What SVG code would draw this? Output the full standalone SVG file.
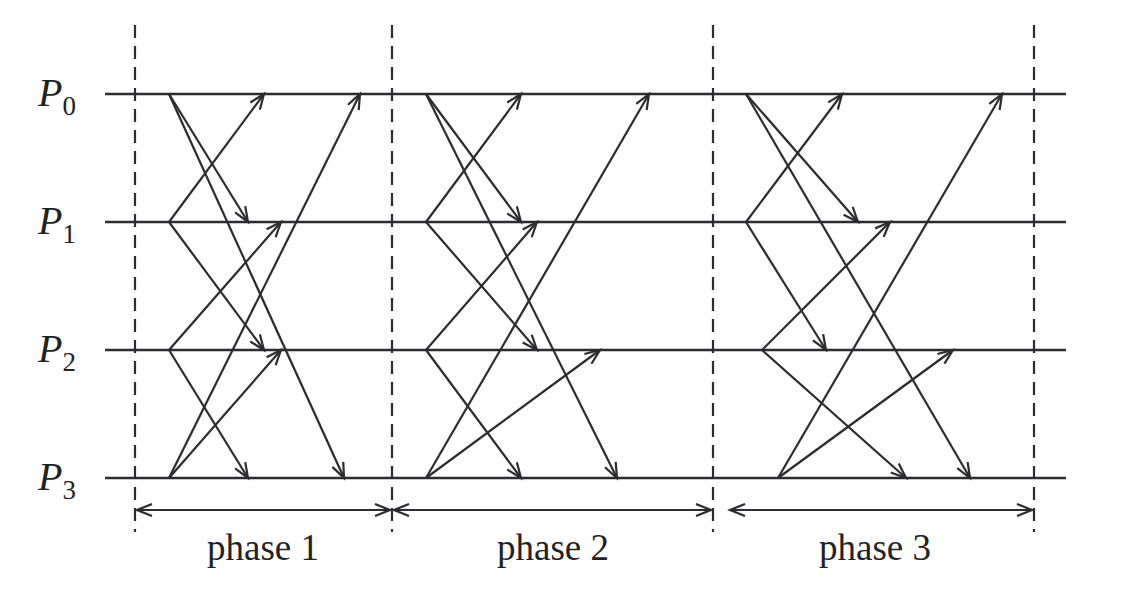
<svg xmlns="http://www.w3.org/2000/svg" width="1126" height="613" viewBox="0 0 1126 613">
<defs>
<marker id="a" markerWidth="20" markerHeight="14" refX="16" refY="7" orient="auto" markerUnits="userSpaceOnUse"><path d="M1,1 L16,7 L1,13" fill="none" stroke="#2b2b30" stroke-width="2.2"/></marker>
<marker id="s" markerWidth="20" markerHeight="14" refX="4" refY="7" orient="auto" markerUnits="userSpaceOnUse"><path d="M19,1 L4,7 L19,13" fill="none" stroke="#2b2b30" stroke-width="2.2"/></marker>
</defs>
<style>
.l{stroke:#2b2b30;stroke-width:2.6;fill:none}
.d{stroke:#2b2b30;stroke-width:2.2;stroke-dasharray:13,8;fill:none}
.m{stroke:#2b2b30;stroke-width:2.2;fill:none;marker-end:url(#a)}
.p{stroke:#2b2b30;stroke-width:2.2;fill:none;marker-start:url(#s);marker-end:url(#a)}
.t{font-family:"Liberation Serif",serif;fill:#222}
</style>
<rect width="1126" height="613" fill="#fff"/>
<g id="dashes">
<line class="d" x1="135" y1="25" x2="135" y2="532"/>
<line class="d" x1="392" y1="25" x2="392" y2="532"/>
<line class="d" x1="713" y1="25" x2="713" y2="532"/>
<line class="d" x1="1034" y1="25" x2="1034" y2="532"/>
</g>
<g id="P0"><line class="l" x1="105" y1="94" x2="1066" y2="94"/><text class="t" x="38" y="106" font-size="40" font-style="italic">P<tspan font-size="27" font-style="normal" dy="9">0</tspan></text></g>
<g id="P1"><line class="l" x1="105" y1="222" x2="1066" y2="222"/><text class="t" x="38" y="234" font-size="40" font-style="italic">P<tspan font-size="27" font-style="normal" dy="9">1</tspan></text></g>
<g id="P2"><line class="l" x1="105" y1="350" x2="1066" y2="350"/><text class="t" x="38" y="362" font-size="40" font-style="italic">P<tspan font-size="27" font-style="normal" dy="9">2</tspan></text></g>
<g id="P3"><line class="l" x1="105" y1="478" x2="1066" y2="478"/><text class="t" x="38" y="490" font-size="40" font-style="italic">P<tspan font-size="27" font-style="normal" dy="9">3</tspan></text></g>
<g id="connectors">
<line class="m" x1="169" y1="94" x2="248" y2="222"/>
<line class="m" x1="169" y1="94" x2="344" y2="478"/>
<line class="m" x1="169" y1="222" x2="264" y2="94"/>
<line class="m" x1="169" y1="222" x2="264" y2="350"/>
<line class="m" x1="169" y1="350" x2="281" y2="222"/>
<line class="m" x1="169" y1="350" x2="248" y2="478"/>
<line class="m" x1="169" y1="478" x2="281" y2="350"/>
<line class="m" x1="169" y1="478" x2="360" y2="94"/>
<line class="m" x1="426" y1="94" x2="521" y2="222"/>
<line class="m" x1="426" y1="94" x2="617" y2="478"/>
<line class="m" x1="426" y1="222" x2="521" y2="94"/>
<line class="m" x1="426" y1="222" x2="537" y2="350"/>
<line class="m" x1="426" y1="350" x2="537" y2="222"/>
<line class="m" x1="426" y1="350" x2="521" y2="478"/>
<line class="m" x1="426" y1="478" x2="600" y2="350"/>
<line class="m" x1="426" y1="478" x2="649" y2="94"/>
<line class="m" x1="746" y1="94" x2="858" y2="222"/>
<line class="m" x1="746" y1="94" x2="970" y2="478"/>
<line class="m" x1="746" y1="222" x2="842" y2="94"/>
<line class="m" x1="746" y1="222" x2="826" y2="350"/>
<line class="m" x1="762" y1="350" x2="890" y2="222"/>
<line class="m" x1="762" y1="350" x2="906" y2="478"/>
<line class="m" x1="778" y1="478" x2="953" y2="350"/>
<line class="m" x1="778" y1="478" x2="1002" y2="94"/>
<line class="p" x1="137" y1="510" x2="390" y2="510"/>
<line class="p" x1="394" y1="510" x2="711" y2="510"/>
<line class="p" x1="730" y1="510" x2="1032" y2="510"/>
</g>
<g id="labels">
<text class="t" x="263" y="560" font-size="37" text-anchor="middle">phase 1</text>
<text class="t" x="553" y="560" font-size="37" text-anchor="middle">phase 2</text>
<text class="t" x="875" y="560" font-size="37" text-anchor="middle">phase 3</text>
</g>
</svg>
